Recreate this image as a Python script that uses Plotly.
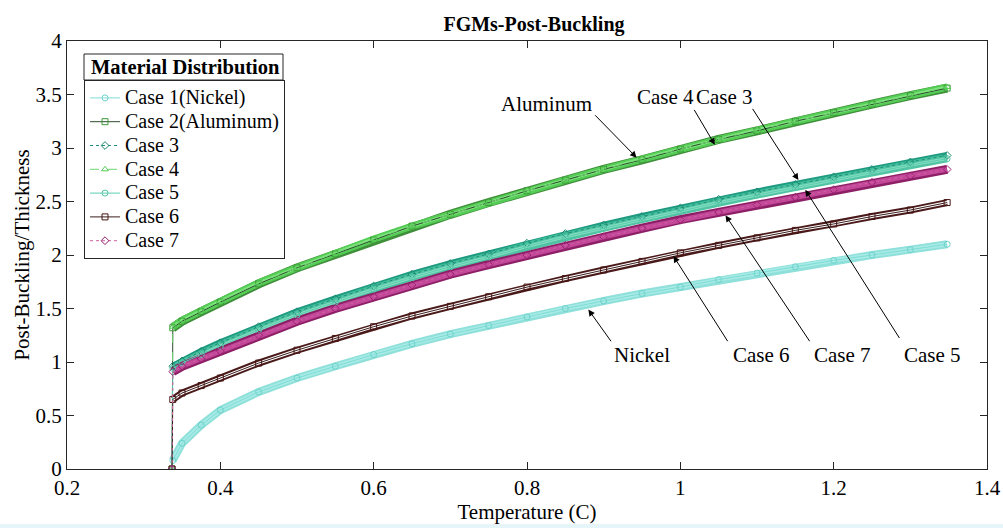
import plotly.graph_objects as go

# ---- data ----
temperature = [0.337, 0.338, 0.35, 0.375, 0.4, 0.45, 0.5, 0.55, 0.6, 0.65, 0.7, 0.75,
               0.8, 0.85, 0.9, 0.95, 1.0, 1.05, 1.1, 1.15, 1.2, 1.25, 1.3, 1.348]
case1 = [0, 0.08, 0.24, 0.41, 0.55, 0.72, 0.85, 0.96, 1.07, 1.17, 1.26, 1.34,
         1.42, 1.50, 1.57, 1.64, 1.70, 1.77, 1.83, 1.89, 1.95, 2.00, 2.05, 2.10]
case2 = [0, 1.32, 1.38, 1.47, 1.56, 1.73, 1.88, 2.01, 2.14, 2.27, 2.38, 2.49,
         2.60, 2.70, 2.80, 2.89, 2.99, 3.08, 3.16, 3.25, 3.33, 3.41, 3.49, 3.56]
case3 = [0, 0.96, 1.01, 1.10, 1.18, 1.33, 1.47, 1.59, 1.71, 1.82, 1.92, 2.01,
         2.11, 2.20, 2.28, 2.36, 2.44, 2.52, 2.59, 2.66, 2.73, 2.80, 2.87, 2.93]
case4 = [0, 1.33, 1.39, 1.48, 1.57, 1.74, 1.88, 2.02, 2.15, 2.27, 2.38, 2.49,
         2.60, 2.70, 2.80, 2.90, 2.99, 3.08, 3.17, 3.25, 3.33, 3.41, 3.49, 3.57]
case5 = [0, 0.94, 0.99, 1.07, 1.15, 1.30, 1.44, 1.56, 1.68, 1.79, 1.89, 1.98,
         2.08, 2.17, 2.25, 2.33, 2.41, 2.49, 2.56, 2.63, 2.70, 2.77, 2.84, 2.90]
case6 = [0, 0.65, 0.71, 0.78, 0.85, 0.99, 1.11, 1.22, 1.33, 1.43, 1.52, 1.61,
         1.70, 1.78, 1.86, 1.94, 2.02, 2.09, 2.16, 2.23, 2.29, 2.36, 2.42, 2.49]
case7 = [0, 0.91, 0.96, 1.03, 1.10, 1.25, 1.38, 1.50, 1.61, 1.72, 1.82, 1.91,
         2.00, 2.09, 2.17, 2.25, 2.33, 2.40, 2.47, 2.54, 2.61, 2.68, 2.74, 2.80]
series_names = ["Case 1(Nickel)", "Case 2(Aluminum)", "Case 3", "Case 4",
                "Case 5", "Case 6", "Case 7"]
legend_title = "Material Distribution"
x_ticks = [0.2, 0.4, 0.6, 0.8, 1.0, 1.2, 1.4]
y_ticks = [0, 0.5, 1, 1.5, 2, 2.5, 3, 3.5, 4]

FONT = "Liberation Serif, Times New Roman, serif"
FS = 21

styles = [
    # line color, marker color, band edge color, band fill color, symbol, dash, band width
    ("#7fdcd6", "#6fd2cc", "#8fe0da", "#a8ebe6", "circle-open", "solid", 8),
    ("#2d4a2d", "#3f9a3a", "#3f8f3a", "#66dd66", "square-open", "solid", 9),
    ("#1f8f78", "#1c8a72", "#1f9a80", "#3fbf9a", "diamond-open", "dot", 7),
    ("#6fd86f", "#55cc55", "#55cc55", "#7fe57f", "triangle-up-open", "dash", 7),
    ("#5ccfb0", "#55c8a8", "#4fc3a3", "#85dcc0", "circle-open", "solid", 7),
    ("#3a1f1f", "#4a1515", "#4a1a1a", "#ffffff", "square-open", "solid", 7),
    ("#d060a0", "#9a2070", "#8c1f66", "#c4489a", "diamond-open", "dot", 9),
]
data_sets = [case1, case2, case3, case4, case5, case6, case7]

fig = go.Figure()

# thick bands that imitate the dense overlapping markers (edge + lighter core)
for ys, st in zip(data_sets, styles):
    fig.add_trace(go.Scatter(x=temperature[1:], y=ys[1:], mode="lines",
                             line=dict(color=st[2], width=st[6]),
                             showlegend=False, hoverinfo="skip"))
    fig.add_trace(go.Scatter(x=temperature[1:], y=ys[1:], mode="lines",
                             line=dict(color=st[3], width=max(st[6] - 4, 2)),
                             showlegend=False, hoverinfo="skip"))

for name, ys, st in zip(series_names, data_sets, styles):
    fig.add_trace(go.Scatter(
        x=temperature, y=ys, mode="lines+markers",
        name=f'<span style="font-size:20px">{name}</span>',
        line=dict(color=st[0], width=1, dash=st[5]),
        marker=dict(symbol=st[4], size=6, color=st[1], line=dict(width=1, color=st[1])),
    ))

axis_common = dict(showgrid=False, zeroline=False, showline=True, linecolor="#262626",
                   linewidth=1, mirror="ticks", ticks="inside", ticklen=7,
                   automargin=False,
                   tickcolor="#262626", tickfont=dict(family=FONT, size=FS, color="black"))

TOP, BOT = 41, 469  # plot area top / bottom in px
PH = BOT - TOP


def py(v):
    """pixel row -> paper y"""
    return (BOT - v) / PH


fig.update_layout(
    width=1003, height=528,
    margin=dict(l=67, r=16, t=TOP, b=528 - BOT),
    paper_bgcolor="white", plot_bgcolor="white",
    title=dict(text="<b>FGMs-Post-Buckling</b>", x=534 / 1003, xanchor="center",
               y=1 - 24 / 528, yanchor="middle",
               font=dict(family=FONT, size=20, color="black")),
    xaxis=dict(range=[0.2, 1.4], tickvals=x_ticks,
               ticktext=[f"{v:g}" for v in x_ticks],
               title=dict(text="Temperature (C)", standoff=3,
                          font=dict(family=FONT, size=FS, color="black")),
               **axis_common),
    yaxis=dict(range=[0, 4], tickvals=y_ticks,
               ticktext=[f"{v:g}" for v in y_ticks],
               title=dict(text="Post-Buckling/Thickness", standoff=0,
                          font=dict(family=FONT, size=FS, color="black")),
               **axis_common),
    legend=dict(x=17 / 920, y=py(80), xanchor="left", yanchor="top",
                bgcolor="white", bordercolor="#262626", borderwidth=1,
                font=dict(family=FONT, size=16, color="black"),
                itemwidth=30, tracegroupgap=0),
    showlegend=True,
)

# legend title box (MATLAB style, separated from entries by a rule)
fig.add_shape(type="rect", xref="paper", yref="paper",
              x0=17 / 920, x1=(283 - 67) / 920, y0=py(80), y1=py(54),
              fillcolor="white", line=dict(color="#262626", width=1))
fig.add_annotation(xref="paper", yref="paper", x=(89 - 67) / 920, y=py(67),
                   xanchor="left", yanchor="middle",
                   text=f"<b>{legend_title}</b>", showarrow=False,
                   font=dict(family=FONT, size=20.5, color="black"))

# faint strip at the very bottom of the reference picture
fig.add_shape(type="rect", xref="paper", yref="paper",
              x0=-67 / 920, x1=1 + 16 / 920, y0=py(528), y1=py(524),
              fillcolor="#e6f5fa", line=dict(width=0), layer="below")

# annotations: text labels and arrows (data coordinates)
labels = [
    ("Aluminum", 0.826, 3.41, 0.887, 3.32, 0.943, 2.91),
    ("Case 4", 0.980, 3.475, 1.017, 3.37, 1.045, 3.03),
    ("Case 3", 1.057, 3.475, 1.093, 3.38, 1.154, 2.70),
    ("Nickel", 0.950, 1.07, 0.911, 1.18, 0.880, 1.49),
    ("Case 6", 1.106, 1.07, 1.063, 1.18, 0.991, 1.99),
    ("Case 7", 1.212, 1.07, 1.170, 1.18, 1.059, 2.37),
    ("Case 5", 1.329, 1.07, 1.287, 1.21, 1.163, 2.61),
]
for txt, tx, ty, ax, ay, hx, hy in labels:
    fig.add_annotation(x=tx, y=ty, text=txt, showarrow=False,
                       font=dict(family=FONT, size=FS, color="black"))
    fig.add_annotation(x=hx, y=hy, ax=ax, ay=ay, axref="x", ayref="y", text="",
                       showarrow=True, arrowhead=2, arrowsize=1.3, arrowwidth=1,
                       arrowcolor="black", standoff=0)

fig.write_html("out.html",
               config={"displayModeBar": False},
               post_script="document.body.style.margin='0px';"
                           "document.documentElement.style.overflow='hidden';")
